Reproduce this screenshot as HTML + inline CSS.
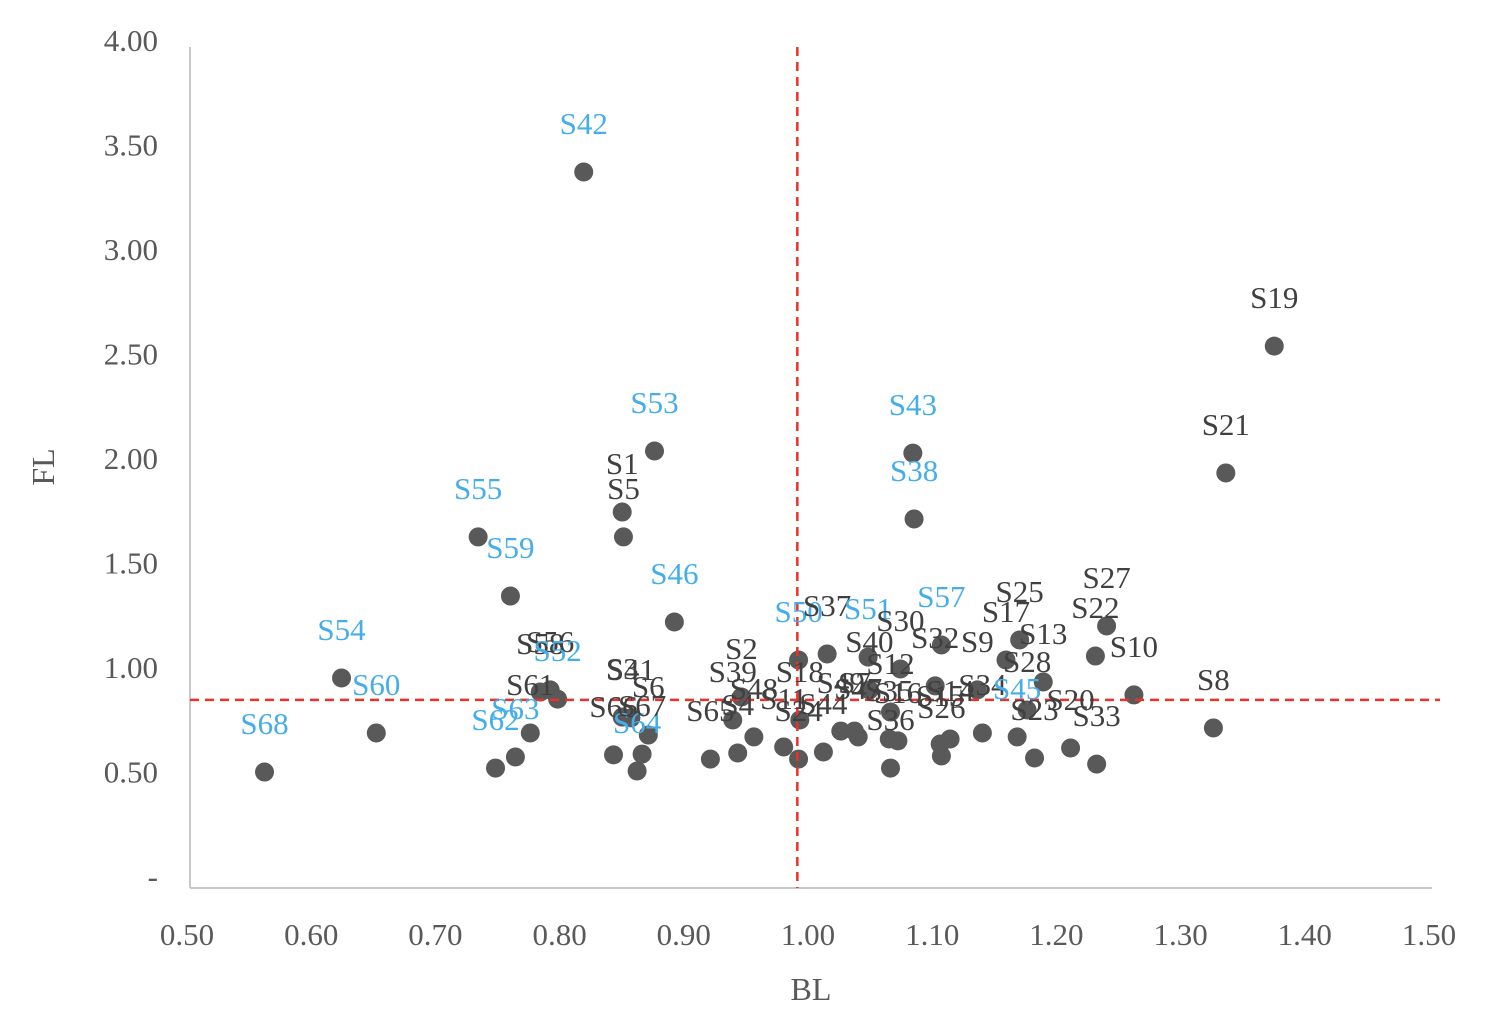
<!DOCTYPE html>
<html><head><meta charset="utf-8"><style>
html,body{margin:0;padding:0;background:#fff;}
svg text{font-family:"Liberation Serif",serif;}
</style></head><body>
<svg id="chart" width="1498" height="1028" viewBox="0 0 1498 1028" xmlns="http://www.w3.org/2000/svg">
<g id="axes"></g><g id="marks"></g><g id="labels"></g>
</svg>
<script>
const names=["S68","S54","S60","S55","S59","S62","S63","S61","S58","S56","S52","S42","S1","S5","S53","S46","S66","S3","S41","S64","S67","S6","S65","S39","S2","S4","S48","S11","S50","S18","S24","S44","S37","S49","S7","S47","S51","S40","S35","S36","S12","S16","S30","S43","S38","S32","S14","S15","S26","S57","S34","S9","S17","S45","S25","S28","S23","S13","S20","S22","S33","S27","S10","S8","S21","S19"];
const blVals=[0.560,0.622,0.650,0.732,0.758,0.746,0.762,0.774,0.782,0.790,0.796,0.817,0.848,0.849,0.874,0.890,0.841,0.848,0.855,0.860,0.864,0.869,0.919,0.937,0.944,0.941,0.954,0.978,0.990,0.991,0.990,1.010,1.013,1.024,1.035,1.038,1.046,1.047,1.063,1.064,1.064,1.070,1.072,1.082,1.083,1.100,1.112,1.104,1.105,1.105,1.138,1.134,1.157,1.166,1.168,1.174,1.180,1.187,1.209,1.229,1.230,1.238,1.260,1.324,1.334,1.373];
const flVals=[0.507,0.957,0.694,1.632,1.349,0.526,0.579,0.694,0.890,0.900,0.856,3.378,1.751,1.632,2.043,1.225,0.589,0.770,0.766,0.512,0.593,0.684,0.569,0.756,0.866,0.598,0.675,0.627,1.043,0.756,0.569,0.603,1.072,0.703,0.703,0.675,1.057,0.900,0.665,0.526,0.794,0.656,1.000,2.033,1.718,0.919,0.665,0.641,0.584,1.115,0.694,0.900,1.043,0.675,1.139,0.804,0.574,0.938,0.622,1.062,0.545,1.206,0.876,0.718,1.938,2.545];
const highlighted=["S68","S54","S60","S55","S59","S62","S63","S52","S42","S53","S46","S64","S50","S51","S43","S38","S57","S45"];
const xTicks=[0.5,0.6,0.7,0.8,0.9,1.0,1.1,1.2,1.3,1.4,1.5];
const yTicks=[0,0.5,1,1.5,2,2.5,3,3.5,4];
const xTickLabels=["0.50","0.60","0.70","0.80","0.90","1.00","1.10","1.20","1.30","1.40","1.50"];
const yTickLabels=["-","0.50","1.00","1.50","2.00","2.50","3.00","3.50","4.00"];
const refBL=[0.989];
const refFL=[0.852];

const NS="http://www.w3.org/2000/svg";
const xS=v=>190+(v-0.5)*1242;
const yS=v=>878-v*209;
function mk(tag,attrs,parent,txt){const e=document.createElementNS(NS,tag);for(const k in attrs)e.setAttribute(k,attrs[k]);if(txt!==undefined)e.textContent=txt;parent.appendChild(e);return e;}
const axes=document.getElementById('axes'),marks=document.getElementById('marks'),labels=document.getElementById('labels');

let a=mk('line',{x1:190,y1:47,x2:190,y2:888,stroke:'#c8c8c8','stroke-width':2},axes);


a=mk('line',{x1:190,y1:888,x2:1432,y2:888,stroke:'#c8c8c8','stroke-width':2},axes);


xTicks.forEach((v,i)=>{const t=mk('text',{x:xS(v)-3,y:945,'text-anchor':'middle','font-size':31,fill:'#595959'},axes,xTickLabels[i]);

});
yTicks.forEach((v,i)=>{const t=mk('text',{x:158,y:yS(v)+9,'text-anchor':'end','font-size':31,fill:'#595959'},axes,yTickLabels[i]);

});
let t=mk('text',{x:811,y:1000,'text-anchor':'middle','font-size':32,fill:'#595959'},axes,'BL');


t=mk('text',{x:0,y:0,'text-anchor':'middle','font-size':32,fill:'#595959',transform:'translate(54,467) rotate(-90)'},axes,'FL');



names.forEach((n,i)=>{const c=mk('circle',{cx:xS(blVals[i]),cy:yS(flVals[i]),r:9.5,fill:'#595959'},marks);


const blue=highlighted.includes(n);
const l=mk('text',{x:xS(blVals[i]),y:yS(flVals[i])-38,'text-anchor':'middle','font-size':31,fill:blue?'#45aeea':'#404040'},labels,n);

});

const v=mk('line',{x1:xS(refBL[0]),y1:47,x2:xS(refBL[0]),y2:888,stroke:'#e8332a','stroke-width':2.5,'stroke-dasharray':'9,6'},marks);


const h=mk('line',{x1:190,y1:yS(refFL[0]),x2:1440,y2:yS(refFL[0]),stroke:'#e8332a','stroke-width':2.5,'stroke-dasharray':'9,6'},marks);


</script>
</body></html>
